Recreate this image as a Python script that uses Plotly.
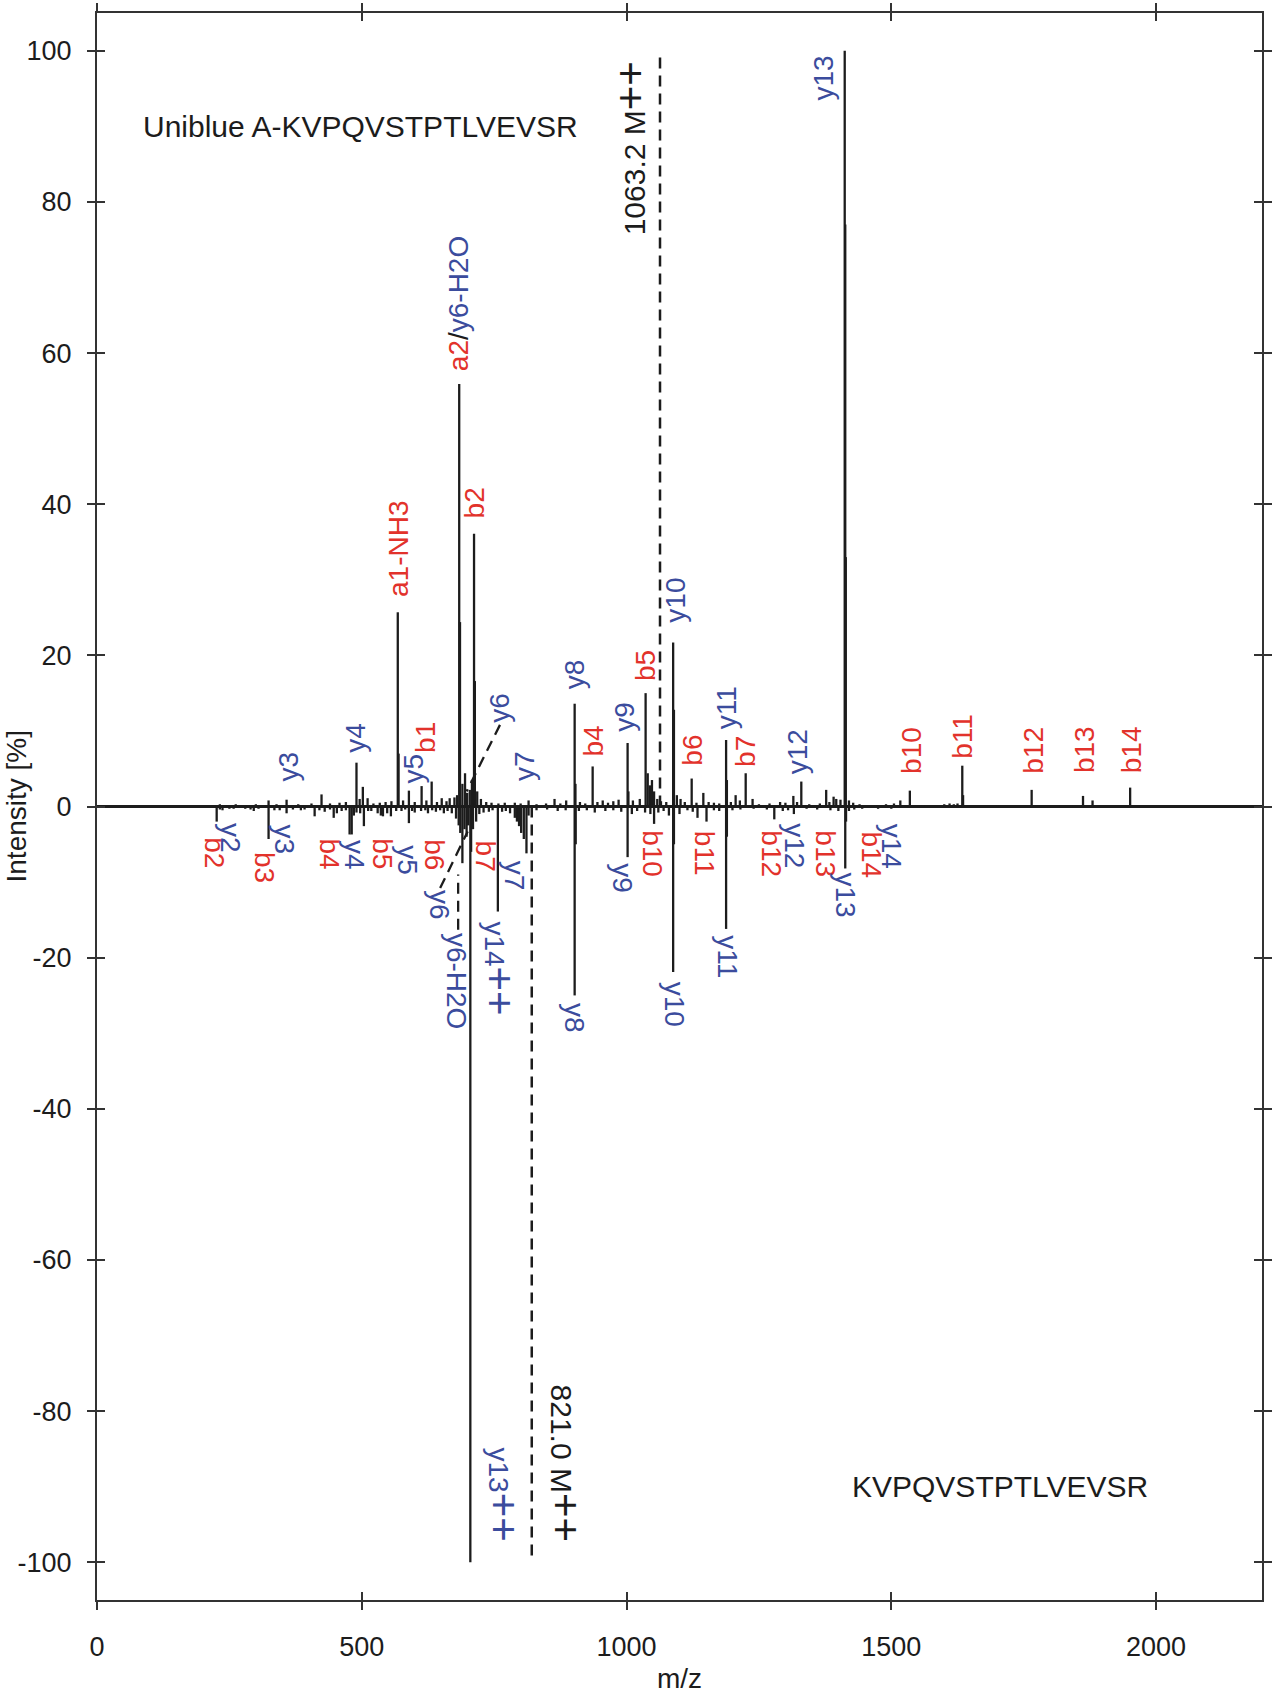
import plotly.graph_objects as go

# ---------------- data ----------------
# Top spectrum: Uniblue A-KVPQVSTPTLVEVSR (m/z, relative intensity %)
pos_mz = [232, 246, 262, 285, 300, 324, 339, 358, 380, 405, 424, 440, 458, 470, 490, 496, 502, 511,
          522, 534, 545, 556, 568, 569.5, 578, 589, 600, 613, 622, 632, 642, 651, 660, 666, 675, 680,
          684, 685.5, 690, 695, 699, 704, 708, 712, 713.5, 718, 725, 735, 745, 758, 770, 789, 800, 815,
          830, 848, 864, 875, 886, 902, 903.5, 912, 922, 936, 945, 955, 965, 975, 985, 1002, 1003.5,
          1012, 1025, 1036, 1040, 1044, 1048, 1052, 1058, 1065, 1075, 1088, 1089.5, 1095, 1102, 1110,
          1123, 1132, 1145, 1155, 1165, 1175, 1188, 1189.5, 1197, 1206, 1214, 1225, 1238, 1250, 1270,
          1290, 1300, 1315, 1322, 1330, 1345, 1365, 1377, 1383, 1391, 1396, 1404, 1412, 1413, 1414,
          1420, 1428, 1440, 1470, 1490, 1505, 1517, 1535, 1560, 1600, 1610, 1618, 1625, 1634, 1635.5,
          1700, 1765, 1815, 1840, 1862, 1880, 1951]
pos_int = [0.3, 0.2, 0.3, 0.2, 0.3, 0.8, 0.3, 0.9, 0.3, 0.4, 1.6, 0.4, 0.5, 0.6, 5.8, 1.0, 2.6, 1.1,
           0.4, 0.5, 0.6, 0.7, 25.7, 7.0, 0.8, 2.1, 0.6, 2.7, 0.8, 3.3, 0.6, 1.1, 0.7, 1.1, 1.2, 1.5,
           55.9, 24.4, 3.0, 4.4, 1.8, 2.2, 3.5, 36.1, 16.6, 2.0, 1.0, 0.6, 0.5, 0.4, 0.5, 0.5, 0.4, 0.8,
           0.3, 0.4, 1.0, 0.4, 0.8, 13.6, 3.0, 0.6, 0.4, 5.3, 0.6, 0.8, 0.5, 0.7, 0.9, 8.4, 2.0,
           0.8, 1.0, 15.0, 4.4, 2.8, 3.5, 2.0, 1.0, 0.7, 0.6, 21.7, 12.8, 1.5, 1.0, 0.6,
           3.7, 0.5, 1.8, 0.6, 0.5, 0.4, 8.8, 3.5, 0.6, 1.5, 0.8, 4.4, 1.0, 0.3, 0.4,
           0.6, 0.5, 1.4, 0.6, 3.3, 0.3, 0.4, 2.2, 0.6, 1.3, 1.0, 0.9, 100.0, 77.0, 33.0,
           0.8, 0.5, 0.3, 0.2, 0.3, 0.4, 0.8, 2.1, 0.2, 0.3, 0.4, 0.3, 0.4, 5.4, 1.5,
           0.2, 2.2, 0.2, 0.2, 1.4, 0.8, 2.5]

# Bottom spectrum: KVPQVSTPTLVEVSR (mirrored, negative intensities)
neg_mz = [226, 232, 237, 250, 258, 280, 290, 296, 305, 324, 335, 345, 358, 370, 385, 392, 411, 420,
          430, 440, 447, 453, 462, 470, 477, 481, 485, 490, 497, 504, 512, 518, 530, 536, 540, 548,
          555, 565, 575, 582, 589, 595, 600, 612, 620, 625, 633, 640, 648, 655, 662, 670, 678, 683,
          686, 690, 694, 698, 701, 705, 706.5, 710, 716, 722, 730, 740, 747, 757, 765, 772, 780, 789,
          793, 797, 801, 806, 811, 815, 830, 850, 870, 885, 902, 904, 910, 925, 940, 960, 975, 990,
          1002, 1010, 1020, 1035, 1045, 1052, 1060, 1070, 1080, 1088, 1089.5, 1100, 1115, 1125, 1134,
          1151, 1165, 1175, 1188, 1189.5, 1200, 1215, 1240, 1265, 1279, 1295, 1305, 1316, 1340, 1360,
          1385, 1400, 1413, 1414.5, 1420, 1430, 1445, 1475, 1500]
neg_int = [-2.0, -0.4, -0.5, -0.3, -0.3, -0.3, -0.4, -0.6, -0.3, -4.3, -0.5, -0.5, -0.9, -0.4, -0.5,
           -0.4, -1.3, -0.5, -0.7, -0.4, -1.5, -0.9, -0.6, -0.5, -3.7, -3.7, -1.2, -0.8, -0.9, -2.6,
           -0.6, -0.6, -0.9, -1.2, -1.3, -0.9, -1.3, -0.6, -0.6, -0.4, -2.2, -0.6, -0.8, -0.6, -0.5,
           -0.9, -0.5, -0.7, -0.5, -0.9, -0.6, -0.9, -1.6, -2.5, -3.5, -7.5, -3.0, -4.0, -2.5, -100.0,
           -6.0, -3.0, -2.0, -1.0, -0.8, -0.7, -0.5, -13.9, -0.7, -0.6, -0.9, -1.5, -2.0, -2.6, -3.5,
           -4.3, -6.2, -1.2, -0.5, -0.4, -0.6, -0.5, -25.0, -5.0, -0.6, -0.5, -0.8, -0.6, -0.5, -0.7,
           -6.7, -1.0, -0.6, -0.8, -1.0, -2.3, -0.8, -0.6, -1.2, -21.9, -5.0, -1.0, -0.5, -0.7, -1.5,
           -2.0, -0.5, -0.6, -16.2, -4.0, -0.5, -0.4, -0.3, -0.4, -1.7, -0.6, -0.5, -1.0, -0.3, -0.4,
           -0.5, -0.6, -8.2, -2.0, -0.6, -0.4, -0.3, -0.3, -0.3]

# precursor (M++) markers
prec_mz = [1063.2, 821.0]
prec_int = [100, -100]
prec_text = ["1063.2 M++", "821.0 M++"]

# fragment labels, top spectrum: text, ion type, m/z, label base (intensity units)
pos_lab_text = ["y3", "y4", "y5", "b1", "a1-NH3", "b2", "y6", "y7", "y8", "b4", "y9", "b5", "y10",
                "b6", "y11", "b7", "y12", "b10", "b11", "b12", "b13", "b14"]
pos_lab_ion = ["y", "y", "y", "b", "b", "b", "y", "y", "y", "b", "y", "b", "y",
               "b", "y", "b", "y", "b", "b", "b", "b", "b"]
pos_lab_mz = [362, 488, 597, 620, 569, 712, 761, 806, 902, 937, 996, 1037, 1093,
              1124, 1188, 1225, 1323, 1537, 1635, 1767, 1864, 1953]
pos_lab_y = [3.0, 6.9, 2.8, 6.8, 27.5, 37.8, 10.8, 3.1, 15.2, 6.3, 9.7, 16.3, 24.1,
             5.1, 9.9, 5.0, 4.0, 4.1, 6.1, 4.1, 4.1, 4.1]

# fragment labels, bottom spectrum: text, ion type, m/z, label top (intensity units)
neg_lab_text = ["b2", "y2", "b3", "y3", "b4", "y4", "b5", "y5", "b6", "y6", "y6-H2O", "b7", "y14++",
                "y7", "y8", "y9", "b10", "y10", "b11", "y11", "b12", "y12", "b13", "y13", "b14", "y14"]
neg_lab_ion = ["b", "y", "b", "y", "b", "y", "b", "y", "b", "y", "y", "b", "y",
               "y", "y", "y", "b", "y", "b", "y", "b", "y", "b", "y", "b", "y"]
neg_lab_mz = [222, 251, 315, 355, 440, 486, 540, 586, 636, 648, 679, 733, 760,
              789, 902, 992, 1050, 1092, 1146, 1189, 1272, 1318, 1374, 1414, 1462, 1502]
neg_lab_y = [-3.8, -1.9, -5.8, -2.1, -3.9, -4.2, -4.0, -4.9, -4.1, -10.8, -16.4, -4.2, -15.0,
             -6.9, -25.7, -7.3, -2.8, -22.9, -3.0, -16.8, -2.9, -2.0, -2.9, -8.5, -3.0, -2.0]

# leader lines from labels to peaks: (from m/z, from int, to m/z, to int)
leader_x0 = [761, 648, 682]
leader_y0 = [10.8, -10.8, -16.3]
leader_x1 = [698, 700, 682]
leader_y1 = [2.0, -3.3, -9.0]

x_ticks = [0, 500, 1000, 1500, 2000]
y_ticks = [-100, -80, -60, -40, -20, 0, 20, 40, 60, 80, 100]

# ---------------- style ----------------
FONT = "Liberation Sans, Arial, sans-serif"
RED = "#e2322b"
BLUE = "#3b4c9d"
INK = "#1c1c1c"
COL = {"b": RED, "a": RED, "y": BLUE}
LBL = 28


def sticks(mz, inten):
    xs, ys = [], []
    for m, v in zip(mz, inten):
        xs += [m, m, None]
        ys += [0, v, None]
    return xs, ys


fig = go.Figure()
px, py = sticks(pos_mz, pos_int)
nx, ny = sticks(neg_mz, neg_int)
fig.add_trace(go.Scatter(x=px, y=py, mode="lines", line=dict(color=INK, width=2.3),
                         hoverinfo="skip", showlegend=False))
fig.add_trace(go.Scatter(x=nx, y=ny, mode="lines", line=dict(color=INK, width=2.3),
                         hoverinfo="skip", showlegend=False))

# precursor dashed lines
for m, v in zip(prec_mz, prec_int):
    fig.add_trace(go.Scatter(x=[m, m], y=[0, v], mode="lines",
                             line=dict(color=INK, width=2.5, dash="11px,7px"),
                             hoverinfo="skip", showlegend=False))

# leader dashed lines
for a, b, c, d in zip(leader_x0, leader_y0, leader_x1, leader_y1):
    fig.add_trace(go.Scatter(x=[a, c], y=[b, d], mode="lines",
                             line=dict(color=INK, width=2.3, dash="11px,7px"),
                             hoverinfo="skip", showlegend=False))

# invisible trace for the overlay axes (inner tick halves)
fig.add_trace(go.Scatter(x=[None], y=[None], xaxis="x2", yaxis="y2", showlegend=False,
                         hoverinfo="skip"))


def plus(t):
    return t.replace("++", "<span style='font-size:42px'>++</span>")


ann = []
for t, ion, m, yb in zip(pos_lab_text, pos_lab_ion, pos_lab_mz, pos_lab_y):
    ann.append(dict(x=m, y=yb, text=plus(t), textangle=-90, xanchor="center", yanchor="bottom",
                    showarrow=False, font=dict(family=FONT, size=LBL, color=COL[ion[0]])))
for t, ion, m, yt in zip(neg_lab_text, neg_lab_ion, neg_lab_mz, neg_lab_y):
    ann.append(dict(x=m, y=yt, text=plus(t), textangle=90, xanchor="center", yanchor="top",
                    showarrow=False, font=dict(family=FONT, size=LBL, color=COL[ion[0]])))

# a2 / y6-H2O combined label
ann.append(dict(x=pos_mz[pos_int.index(55.9)], y=57.3,
                text=f"<span style='color:{RED}'>a2</span><span style='color:{INK}'>/</span>"
                     f"<span style='color:{BLUE}'>y6-H2O</span>",
                textangle=-90, xanchor="center", yanchor="bottom", showarrow=False,
                font=dict(family=FONT, size=LBL, color=INK)))
# y13 (top) label beside its 100% peak
ann.append(dict(x=pos_mz[pos_int.index(100.0)], y=99.6, text="y13", textangle=-90,
                xanchor="right", yanchor="top", xshift=-4, showarrow=False,
                font=dict(family=FONT, size=LBL, color=BLUE)))
# y13++ (bottom) label beside its -100% peak
ann.append(dict(x=neg_mz[neg_int.index(-100.0)], y=-97.5, text=plus("y13++"), textangle=90,
                xanchor="left", yanchor="bottom", xshift=8, showarrow=False,
                font=dict(family=FONT, size=LBL, color=BLUE)))
# precursor labels
ann.append(dict(x=prec_mz[0], y=98.8, text=plus(prec_text[0]), textangle=-90,
                xanchor="right", yanchor="top", xshift=-4, showarrow=False,
                font=dict(family=FONT, size=30, color=INK)))
ann.append(dict(x=prec_mz[1], y=-97.5, text=plus(prec_text[1]), textangle=90,
                xanchor="left", yanchor="bottom", xshift=8, showarrow=False,
                font=dict(family=FONT, size=30, color=INK)))

# spectrum titles
ann.append(dict(x=84, y=90, text="Uniblue A-KVPQVSTPTLVEVSR", xanchor="left", yanchor="middle",
                showarrow=False, font=dict(family=FONT, size=30, color=INK)))
ann.append(dict(x=1422, y=-90, text="KVPQVSTPTLVEVSR", xanchor="left", yanchor="middle",
                showarrow=False, font=dict(family=FONT, size=30, color=INK)))

# axis titles
ann.append(dict(x=0, y=0.5, xref="paper", yref="paper", text="Intensity [%]", textangle=-90,
                xanchor="center", yanchor="middle", xshift=-81, showarrow=False,
                font=dict(family=FONT, size=28, color=INK)))
ann.append(dict(x=0.5, y=0, xref="paper", yref="paper", text="m/z", xanchor="center",
                yanchor="middle", yshift=-78, showarrow=False,
                font=dict(family=FONT, size=28, color=INK)))

x_ticktext = [str(v) for v in x_ticks]
y_ticktext = [str(v) for v in y_ticks]

common = dict(showgrid=False, zeroline=False, automargin=False, tickwidth=1.5, tickcolor="#333",
              ticklen=8, mirror="allticks")
fig.update_layout(
    template="none",
    width=1274, height=1694,
    margin=dict(l=97, r=12, t=13, b=94),
    paper_bgcolor="white", plot_bgcolor="white",
    showlegend=False,
    annotations=ann,
    xaxis=dict(range=[0, 2200], tickvals=x_ticks, ticktext=x_ticktext, ticks="outside",
               showline=True, linewidth=2, linecolor="#333",
               tickfont=dict(family=FONT, size=27, color=INK), ticklabelstandoff=14, **common),
    yaxis=dict(range=[-105, 105], tickvals=y_ticks, ticktext=y_ticktext, ticks="outside",
               showline=True, linewidth=2, linecolor="#333",
               tickfont=dict(family=FONT, size=27, color=INK), ticklabelstandoff=10,
               **{**common, "zeroline": True}, zerolinecolor=INK, zerolinewidth=3),
    xaxis2=dict(range=[0, 2200], tickvals=x_ticks, ticks="inside", showticklabels=False,
                showline=False, overlaying="x", anchor="y2", **common),
    yaxis2=dict(range=[-105, 105], tickvals=y_ticks, ticks="inside", showticklabels=False,
                showline=False, overlaying="y", anchor="x2", **common),
)

fig.write_html("out.html", config={"displayModeBar": False})

# remove the default page margin so the figure sits at the window origin
with open("out.html", encoding="utf-8") as f:
    html = f.read()
html = html.replace("<head>", "<head><style>html,body{margin:0;padding:0;}</style>", 1)
with open("out.html", "w", encoding="utf-8") as f:
    f.write(html)
